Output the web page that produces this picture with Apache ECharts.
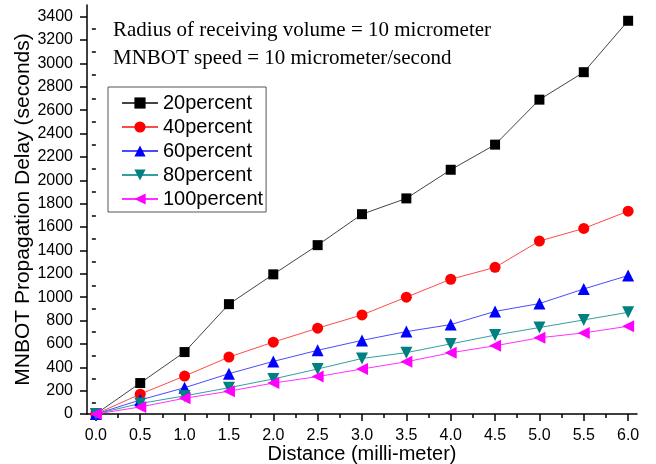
<!DOCTYPE html>
<html>
<head>
<meta charset="utf-8">
<script src="https://cdn.jsdelivr.net/npm/echarts@6/dist/echarts.min.js"></script>
<style>
  html, body {margin: 0; padding: 0; background: #fff;}
  #chart {width: 656px; height: 464px;}
</style>
</head>
<body>
<div id="chart"></div>
<script>
// distance in milli-meter
const distances = [0, 0.5, 1.0, 1.5, 2.0, 2.5, 3.0, 3.5, 4.0, 4.5, 5.0, 5.5, 6.0]
// propagation delay in seconds
const p20 = [0, 265, 530, 940, 1195, 1445, 1710, 1845, 2090, 2305, 2690, 2925, 3365]
const p40 = [0, 170, 325, 487, 615, 734, 848, 1000, 1153, 1255, 1480, 1588, 1736]
const p60 = [0, 120, 225, 345, 450, 545, 630, 705, 765, 878, 945, 1070, 1185]
const p80 = [0, 90, 155, 225, 300, 385, 475, 525, 600, 675, 740, 805, 870]
const p100 = [0, 60, 135, 195, 265, 320, 385, 447, 524, 584, 652, 694, 751]

const xTicks = [0, 0.5, 1.0, 1.5, 2.0, 2.5, 3.0, 3.5, 4.0, 4.5, 5.0, 5.5, 6.0]
const xMinorTicks = [0.25, 0.75, 1.25, 1.75, 2.25, 2.75, 3.25, 3.75, 4.25, 4.75, 5.25, 5.75]
const yTicks = [0, 200, 400, 600, 800, 1000, 1200, 1400, 1600, 1800, 2000, 2200, 2400, 2600, 2800, 3000, 3200, 3400]
const yMinorTicks = [100, 300, 500, 700, 900, 1100, 1300, 1500, 1700, 1900, 2100, 2300, 2500, 2700, 2900, 3100, 3300]

const sans = "Liberation Sans"
const serif = "Liberation Serif"

const pairs = (ys) => distances.map((d, i) => [d, ys[i]])

const makeSeries = (name, ys, symbol, rotate, size, markColor, lineColor) => ({
  name,
  type: "line",
  xAxisIndex: 0,
  yAxisIndex: 0,
  data: pairs(ys),
  symbol,
  symbolRotate: rotate,
  symbolSize: size,
  showAllSymbol: true,
  itemStyle: {color: markColor},
  lineStyle: {color: lineColor, width: 1},
  emphasis: {disabled: true}
})

const chart = echarts.init(document.getElementById("chart"))

const axisLine = {show: true, onZero: false, lineStyle: {color: "#000", width: 1.5}}

chart.setOption({
  animation: false,
  backgroundColor: "#fff",
  grid: {left: 87, right: 19, top: 5, bottom: 50, containLabel: false, outerBoundsMode: "none"},
  legend: {
    orient: "vertical",
    left: 108,
    top: 87,
    padding: [6, 3, 3, 13],
    itemGap: 4,
    itemWidth: 36,
    itemHeight: 14,
    borderColor: "#555",
    borderWidth: 1,
    textStyle: {fontFamily: sans, fontSize: 20, color: "#000"},
    data: ["20percent", "40percent", "60percent", "80percent", "100percent"]
  },
  graphic: [
    {
      type: "text",
      left: 113,
      top: 20,
      style: {text: "Radius of receiving volume = 10 micrometer", font: "21px " + serif, fill: "#000"}
    },
    {
      type: "text",
      left: 113,
      top: 48,
      style: {text: "MNBOT speed = 10 micrometer/second", font: "21px " + serif, fill: "#000"}
    }
  ],
  xAxis: [
    {
      type: "value",
      min: -0.1,
      max: 6.1,
      name: "Distance (milli-meter)",
      nameLocation: "middle",
      nameGap: 30,
      nameMoveOverlap: false,
      nameTextStyle: {fontFamily: sans, fontSize: 20, color: "#000"},
      axisLine,
      axisTick: {show: true, inside: false, length: 7, customValues: xTicks, lineStyle: {color: "#000", width: 1.5}},
      axisLabel: {
        customValues: xTicks,
        margin: 14,
        fontFamily: sans,
        fontSize: 16,
        color: "#000",
        formatter: (v) => v.toFixed(1)
      },
      splitLine: {show: false}
    },
    {
      type: "value",
      min: -0.1,
      max: 6.1,
      position: "bottom",
      axisLine: {show: false},
      axisTick: {show: true, inside: false, length: 4, customValues: xMinorTicks, lineStyle: {color: "#000", width: 1.5}},
      axisLabel: {show: false},
      splitLine: {show: false}
    }
  ],
  yAxis: [
    {
      type: "value",
      min: 0,
      max: 3500,
      name: "MNBOT Propagation Delay (seconds)",
      nameLocation: "middle",
      nameGap: 53,
      nameMoveOverlap: false,
      nameTextStyle: {fontFamily: sans, fontSize: 21, color: "#000"},
      axisLine,
      axisTick: {show: true, inside: false, length: 7, customValues: yTicks, lineStyle: {color: "#000", width: 1.5}},
      axisLabel: {
        customValues: yTicks,
        margin: 14,
        fontFamily: sans,
        fontSize: 16,
        color: "#000",
        formatter: (v) => String(v)
      },
      splitLine: {show: false}
    },
    {
      type: "value",
      min: 0,
      max: 3500,
      position: "left",
      axisLine: {show: false},
      axisTick: {show: true, inside: false, length: 4, customValues: yMinorTicks, lineStyle: {color: "#000", width: 1.5}},
      axisLabel: {show: false},
      splitLine: {show: false}
    }
  ],
  series: [
    makeSeries("20percent", p20, "rect", 0, 10, "#000000", "#444444"),
    makeSeries("40percent", p40, "circle", 0, 11, "#ff0000", "#ff4a4a"),
    makeSeries("60percent", p60, "triangle", 0, 12, "#0000ff", "#4a4aff"),
    makeSeries("80percent", p80, "triangle", 180, 12, "#008080", "#30a0a0"),
    makeSeries("100percent", p100, "triangle", 90, 12, "#ff00ff", "#ff30ff")
  ]
})
</script>
</body>
</html>
